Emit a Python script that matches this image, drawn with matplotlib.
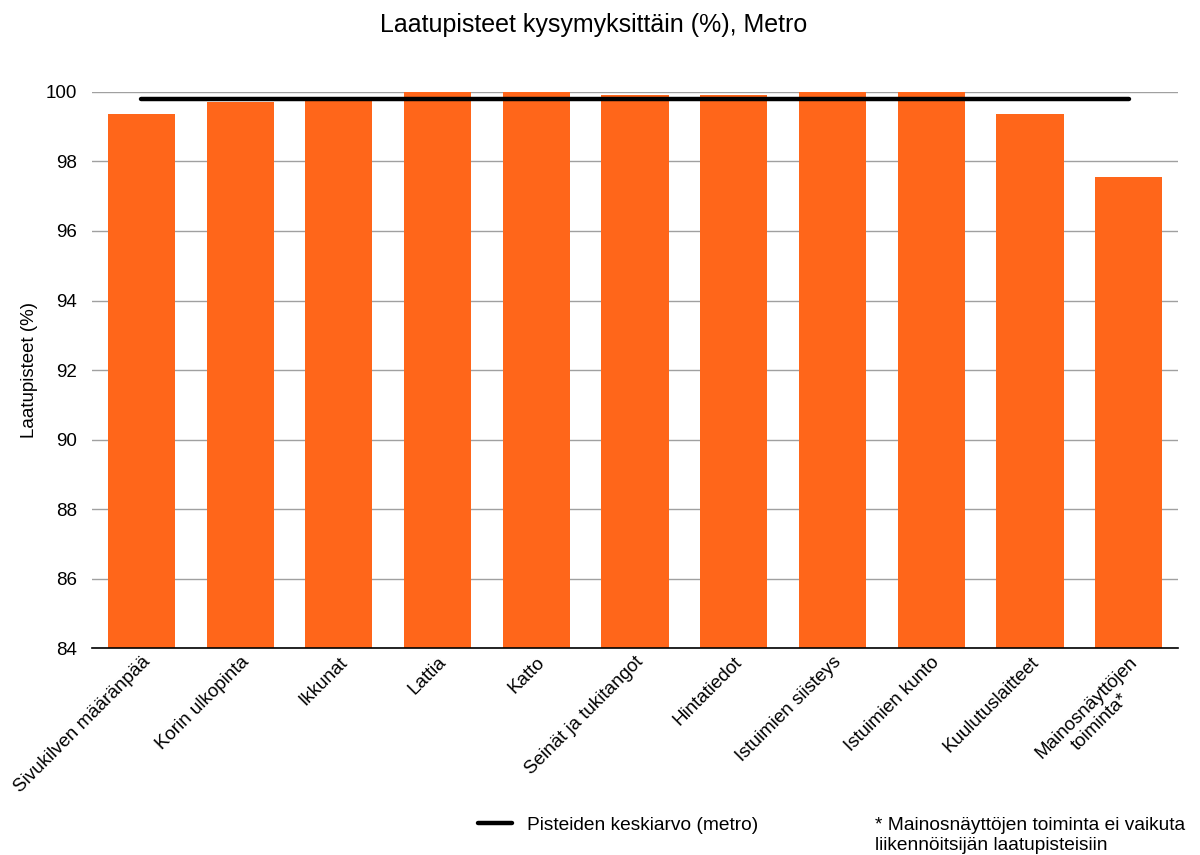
import matplotlib.pyplot as plt
from matplotlib.lines import Line2D

plt.rcParams['font.family'] = ['Liberation Sans', 'DejaVu Sans']

categories = ["Sivukilven määränpää", "Korin ulkopinta", "Ikkunat", "Lattia", "Katto",
              "Seinät ja tukitangot", "Hintatiedot", "Istuimien siisteys",
              "Istuimien kunto", "Kuulutuslaitteet", "Mainosnäyttöjen\ntoiminta*"]
scores = [99.36, 99.70, 99.75, 100.0, 100.0, 99.91, 99.91, 100.0, 100.0, 99.36, 97.56]
mean_score = 99.80
yticks = [84, 86, 88, 90, 92, 94, 96, 98, 100]

fig = plt.figure(figsize=(12, 8.55), dpi=100)
ax = fig.add_axes([0.0767, 0.2421, 0.905, 0.6503])

xs = list(range(len(categories)))
ax.bar(xs, [s - 84 for s in scores], bottom=84, width=0.68, color="#ff661a", zorder=2)
ax.plot([xs[0], xs[-1]], [mean_score, mean_score], color="black", lw=3.2,
        solid_capstyle="round", zorder=3)

ax.set_ylim(84, 100)
ax.set_xlim(-0.5, len(categories) - 0.5)
ax.set_yticks(yticks)
ax.set_yticklabels([str(t) for t in yticks], fontsize=13.5)
ax.yaxis.grid(True, color="#a0a0a0", lw=1, zorder=0)
ax.set_axisbelow(True)
ax.tick_params(axis="y", length=0, pad=11)
ax.tick_params(axis="x", length=0, pad=4)
ax.set_xticks(xs)
ax.set_xticklabels(categories, rotation=45, ha="right", rotation_mode="anchor",
                   fontsize=13.5, multialignment="center")
for s in ("top", "right", "left"):
    ax.spines[s].set_visible(False)
ax.spines["bottom"].set_color("black")
ax.spines["bottom"].set_linewidth(1.2)

ax.set_ylabel("Laatupisteet (%)", fontsize=13.5, labelpad=5)
fig.text(0.495, 0.971, "Laatupisteet kysymyksittäin (%), Metro", ha="center", va="center",
         fontsize=18)

fig.legend(handles=[Line2D([0], [0], color="black", lw=3.2, solid_capstyle="round")],
           labels=["Pisteiden keskiarvo (metro)"], loc="center left",
           bbox_to_anchor=(0.384, 0.035), frameon=False, fontsize=13.8,
           handlelength=1.75, handletextpad=0.8)
fig.text(0.729, 0.035, "* Mainosnäyttöjen toiminta ei vaikuta",
         ha="left", va="center", fontsize=13.8)
fig.text(0.729, 0.0115, "liikennöitsijän laatupisteisiin",
         ha="left", va="center", fontsize=13.8)

fig.savefig("out.png", dpi=100)
